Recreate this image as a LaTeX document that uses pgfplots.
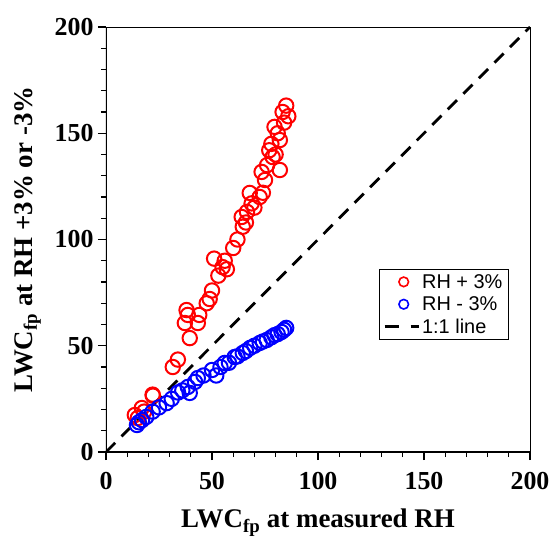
\documentclass[border=0pt]{standalone}
\usepackage{fontspec}
\setmainfont{Liberation Serif}
\setsansfont{Liberation Sans}
\usepackage{pgfplots}
\pgfplotsset{compat=1.18}

\begin{document}
\begin{tikzpicture}
\begin{axis}[
    name=ax,
    scale only axis,
    width=424bp, height=425bp,
    xmin=0, xmax=200, ymin=0, ymax=200,
    xtick={0,50,...,200}, ytick={0,50,...,200},
    minor tick num=4,
    tick pos=left, tick align=outside,
    major tick length=8bp, minor tick length=5bp,
    every tick/.style={black, line width=1.3bp},
    axis line style={line width=0.8bp},
    /pgf/number format/assume math mode=true,
    ticklabel style={font=\fontsize{26}{26}\selectfont\bfseries},
    xticklabel style={yshift=-9bp},
    yticklabel style={xshift=-1bp},
    label style={font=\fontsize{27}{27}\selectfont\bfseries},
    xlabel={LWC\textsubscript{fp} at measured RH},
    ylabel={LWC\textsubscript{fp} at RH +3\% or -3\%},
    xlabel style={yshift=-12bp},
    ylabel style={yshift=7bp},
    legend style={at={(0.95,0.43)}, anchor=north east, draw=black, line width=0.8bp,
        font=\sffamily\fontsize{20}{22}\selectfont, row sep=3bp,
        inner xsep=4bp, inner ysep=2.5bp},
    legend cell align=left,
]
\addplot[only marks, mark=o, mark size=7.2bp, draw=red, mark options={line width=2bp, fill=none},
    legend image code/.code={\path[draw=none] (0bp,0bp) -- (34bp,0bp);
        \draw[red, line width=1.6bp] (19bp,0bp) circle[radius=4.8bp];}]
coordinates {
(13.6,17.4) (15,16) (16.9,20.7) (18,19) (22.1,26.5) (22,27) (31.5,40) (33.9,43.5)
(37.2,60.7) (38.6,64.5) (38,66.8) (39.5,53.6) (43.3,60.7) (44,64.5) (47.5,70) (48.9,72)
(50,76) (51,91) (53,83) (55,87) (57,86) (56,90) (60,96) (62,100) (64.5,106) (66,108)
(64,110.6) (66.5,113) (68.7,117) (70,115) (72.5,120) (74,122) (67.8,121.9) (73.4,131.8)
(75,128) (76,135) (77,142) (78.6,138.8) (80,140) (82,146.8) (82,132.7) (79.5,153)
(81,150) (83.3,160) (85,163) (84,155) (86,158) (78,145)
};
\addlegendentry{RH + 3\%}
\addplot[only marks, mark=o, mark size=7.2bp, draw=blue, mark options={line width=2bp, fill=none},
    legend image code/.code={\path[draw=none] (0bp,0bp) -- (34bp,0bp);
        \draw[blue, line width=1.6bp] (19bp,0bp) circle[radius=4.8bp];}]
coordinates {
(14.6,12.7) (15.5,14) (17,15) (19,16.5) (22,19) (25,21) (28.6,23) (31,25) (34,28) (36,29)
(38.6,30.6) (39.5,27.8) (42,33) (43.3,34.8) (46,36) (50,38.6) (52,36) (54,40) (56,41.9)
(58,42) (60.7,44.7) (62,45) (64.5,46.6) (66,47.5) (68,49) (70,50) (72.5,51.3) (74,52)
(75.8,52.7) (78,54) (79.5,55) (81,55.5) (82.8,56.5) (84,57.5) (85,58.4)
};
\addlegendentry{RH - 3\%}
\addplot[black, line width=2.8bp, dash pattern=on 13bp off 9bp,
    legend image code/.code={\draw[black, line width=2.8bp, dash pattern=on 14bp off 12bp] (0bp,0bp) -- (34bp,0bp);}]
coordinates {(0,0) (200,200)};
\addlegendentry{1:1 line}
\draw[line width=2bp] (rel axis cs:0,1) -- (rel axis cs:0,0) -- (rel axis cs:1,0);
\end{axis}
\pgfresetboundingbox
\path ([shift={(-106bp,-93bp)}]ax.south west) rectangle ([shift={(25bp,27bp)}]ax.north east);
\end{tikzpicture}
\end{document}
